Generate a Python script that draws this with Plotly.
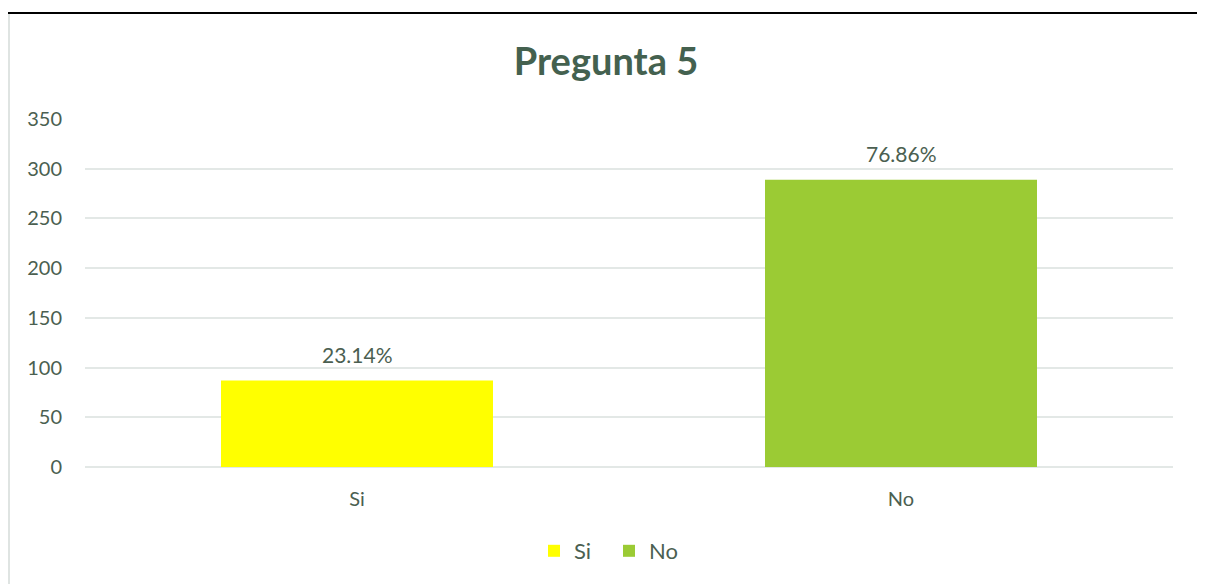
import plotly.graph_objects as go

categories = ["Si", "No"]
counts = [87, 289]
percent_labels = ["23.14%", "76.86%"]
bar_colors = ["#FFFF00", "#9BCB34"]
y_ticks = [0, 50, 100, 150, 200, 250, 300, 350]

OFF = 8  # page body margin
W, H = 1205 - OFF, 584 - OFF
L, R, T, B = 85 - OFF, 32, 119 - OFF, 117
pw, ph = W - L - R, H - T - B

def px_x(x):  # page pixel -> paper
    return (x - OFF - L) / pw

def px_y(y):
    return (H - B - (y - OFF)) / ph

font = "Lato, 'Open Sans', sans-serif"
txt = "#4b5f51"

fig = go.Figure()
for cat, val, col in zip(categories, counts, bar_colors):
    fig.add_trace(go.Bar(
        x=[cat], y=[val], name=cat,
        marker=dict(color=col, line=dict(width=0)),
        offsetgroup=0,
    ))

annotations = [
    dict(x=cat, y=val, xref="x", yref="y", text=lab, showarrow=False,
         yanchor="bottom", yshift=12, font=dict(size=21, color=txt, family=font))
    for cat, val, lab in zip(categories, counts, percent_labels)
]

fig.update_layout(
    width=W, height=H,
    margin=dict(l=L, r=R, t=T, b=B),
    paper_bgcolor="white", plot_bgcolor="white",
    bargap=0.5,
    showlegend=True,
    font=dict(family=font, color=txt, size=20),
    title=dict(text="<b>Pregunta 5</b>", x=px_x(606), xanchor="center",
               xref="paper",
               y=1 - (62 - OFF) / H, yanchor="middle",
               font=dict(size=38, color="#44614f", family=font)),
    legend=dict(orientation="h", x=px_x(534), xanchor="left", y=px_y(551), yanchor="middle",
                font=dict(size=22, color=txt, family=font), itemwidth=30,
                entrywidth=30, entrywidthmode="pixels",
                traceorder="normal"),
    annotations=annotations,
    xaxis=dict(showgrid=False, showline=False, ticks="", tickfont=dict(size=20, color=txt),
               ticklabelstandoff=18),
    yaxis=dict(range=[0, 350], tickvals=y_ticks, showgrid=True, gridcolor="#e3e8e6",
               gridwidth=1.5, zeroline=True, zerolinecolor="#e3e8e6", zerolinewidth=1.5,
               showline=False, ticks="", tickfont=dict(size=20, color=txt),
               ticklabelstandoff=22),
    shapes=[
        dict(type="line", xref="paper", yref="paper", x0=px_x(7), x1=px_x(1210),
             y0=px_y(13), y1=px_y(13), line=dict(color="black", width=2)),
        dict(type="line", xref="paper", yref="paper", x0=px_x(9), x1=px_x(9),
             y0=px_y(14), y1=px_y(590), line=dict(color="#dfe4e2", width=2)),
        dict(type="line", xref="paper", yref="paper", x0=px_x(1203), x1=px_x(1203),
             y0=px_y(14), y1=px_y(590), line=dict(color="#dfe4e2", width=2)),
    ],
)

fig.write_html("out.html")
